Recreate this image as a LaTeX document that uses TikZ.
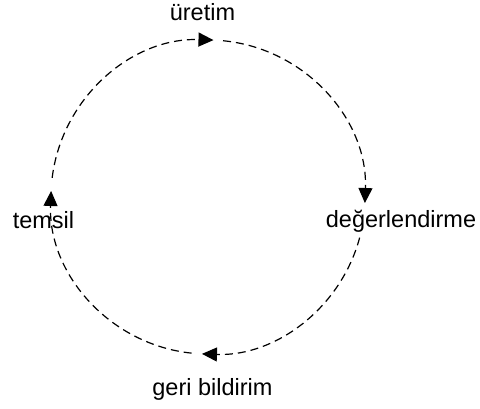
\documentclass[tikz,border=0pt]{standalone}
\usepackage{fontspec}
\setmainfont{Liberation Sans}
\usetikzlibrary{arrows.meta}
\begin{document}
\begin{tikzpicture}[x=1pt,y=1pt,
  lbl/.style={anchor=base,inner sep=0pt,font=\fontsize{23.5}{28}\selectfont},
  cyc/.style={line width=1.2pt,dash pattern=on 8pt off 5pt,-{Triangle[length=15pt,width=14pt]}}]
\useasboundingbox (0,0) rectangle (480,408);
\coordinate (c) at (208,211);
\node[lbl] (uretim) at (202.5,387) {üretim};
\node[lbl] (deger) at (401,181) {değerlendirme};
\node[lbl] (temsil) at (43.5,180) {temsil};
\node[lbl] (geri) at (212.5,13) {geri bildirim};
\draw[cyc] ([shift={(173:157pt)}]c) arc[start angle=173,end angle=88,radius=157pt];
\draw[cyc] ([shift={(84.5:157pt)}]c) arc[start angle=84.5,end angle=-2.2,radius=157pt];
\draw[cyc] ([shift={(-15:157pt)}]c) arc[start angle=-15,end angle=-92.2,radius=157pt];
\draw[cyc] ([shift={(-96:157pt)}]c) arc[start angle=-96,end angle=-182.2,radius=157pt];
\end{tikzpicture}
\end{document}
